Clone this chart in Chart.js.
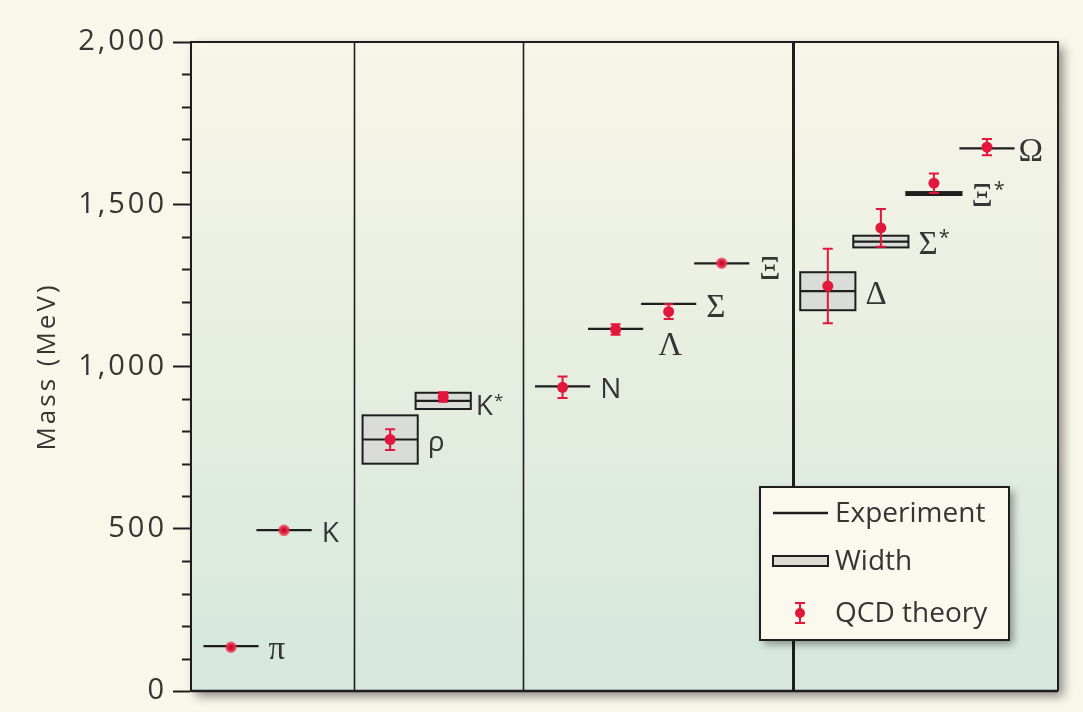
<!DOCTYPE html>
<html>
<head>
<meta charset="utf-8">
<script src="https://cdn.jsdelivr.net/npm/chart.js@4.4.1/dist/chart.umd.min.js"></script>
<style>
  html, body { margin: 0; padding: 0; background: #f9f6ea; }
  #wrap { width: 1083px; height: 712px; }
</style>
</head>
<body>
<div id="wrap"><canvas id="chart" width="1083" height="712"></canvas></div>
<script>
// Hadron masses (MeV): experiment, resonance width, lattice QCD result
const particles  = ['π', 'K', 'ρ', 'K*', 'N', 'Λ', 'Σ', 'Ξ', 'Δ', 'Σ*', 'Ξ*', 'Ω'];
const slots      = [1, 2, 4, 5, 7.25, 8.25, 9.25, 10.25, 12.25, 13.25, 14.25, 15.25];
const experiment = [138, 496, 775, 894, 939, 1116, 1193, 1318, 1232, 1385, 1533, 1672];
const widths     = [0, 0, 149, 50, 0, 0, 0, 0, 117, 36, 9, 0];
const theory     = [135, 495, 775, 906, 936, 1114, 1169, 1318, 1248, 1427, 1565, 1676];
const theoryErr  = [0, 0, 32, 15, 33, 16, 23, 0, 115, 58, 30, 25];
const isInput    = [true, true, false, false, false, false, false, true, false, false, false, false];
const groupEdges = [3.32, 6.5, 11.59];
const yTicks     = [0, 500, 1000, 1500, 2000];
const yMinorStep = 100;
const legendItems = ['Experiment', 'Width', 'QCD theory'];

const RED = '#e3173b';
const INK = '#1e1e1e';
const TEXT = '#353535';
const HALF = 0.52; // half length of each mass segment, in slot units

const theoryPts = [], inputPts = [];
particles.forEach((p, i) => {
  const pt = { x: slots[i], y: theory[i] };
  (isInput[i] ? inputPts : theoryPts).push(pt);
});

const serifNames = ['π', 'Λ', 'Σ', 'Ξ', 'Δ', 'Ω', 'Σ*', 'Ξ*'];
const labelNudge = { 'Λ': [5, 13], 'Ξ': [0, 3], 'K*': [-5, 2], 'Ω': [-6, 0] };

const plotBackdrop = {
  id: 'plotBackdrop',
  beforeDraw(chart) {
    const { ctx, chartArea: a } = chart;
    ctx.save();
    const g = ctx.createLinearGradient(0, a.top, 0, a.bottom);
    g.addColorStop(0, '#f8f6e9');
    g.addColorStop(0.5, '#e6eee0');
    g.addColorStop(1, '#d5e7de');
    ctx.shadowColor = 'rgba(0,0,0,0.45)';
    ctx.shadowBlur = 10;
    ctx.shadowOffsetX = 5;
    ctx.shadowOffsetY = 5;
    ctx.fillStyle = g;
    ctx.fillRect(a.left, a.top, a.right - a.left, a.bottom - a.top);
    ctx.restore();
    // the axis lettering is set a little wide
    ctx.letterSpacing = '3px';
  },
  beforeDatasetsDraw(chart) {
    chart.ctx.letterSpacing = '0px';
  }
};

function drawLabel(ctx, name, x, y) {
  const serif = serifNames.includes(name);
  const base = name.replace('*', '');
  const size = serif ? 33 : 28;
  ctx.font = size + 'px ' + (serif ? '"Liberation Serif"' : '"Open Sans"');
  ctx.fillStyle = TEXT;
  ctx.textBaseline = 'middle';
  ctx.textAlign = 'left';
  ctx.fillText(base, x, y);
  if (name.endsWith('*')) {
    const w = ctx.measureText(base).width;
    ctx.font = Math.round(size * 0.6) + 'px "Open Sans"';
    ctx.fillText('*', x + w + 1, y - size * 0.22);
  }
}

const massMarks = {
  id: 'massMarks',
  beforeDatasetsDraw(chart) {
    const { ctx, chartArea: a, scales: { x, y } } = chart;
    ctx.save();
    ctx.letterSpacing = '0px';
    // group separators
    groupEdges.forEach((e, k) => {
      const px = Math.round(x.getPixelForValue(e)) + 0.5;
      ctx.strokeStyle = INK;
      ctx.lineWidth = k === 2 ? 3 : 1.6;
      ctx.beginPath(); ctx.moveTo(px, a.top); ctx.lineTo(px, a.bottom); ctx.stroke();
    });
    // frame: top, right, bottom
    ctx.strokeStyle = INK;
    ctx.lineWidth = 2;
    ctx.beginPath();
    ctx.moveTo(a.left, a.top); ctx.lineTo(a.right, a.top);
    ctx.lineTo(a.right, a.bottom);
    ctx.stroke();
    ctx.lineWidth = 2.6;
    ctx.beginPath(); ctx.moveTo(a.right, a.bottom); ctx.lineTo(a.left, a.bottom); ctx.stroke();
    // minor ticks on the mass axis
    ctx.lineWidth = 2;
    for (let v = 0; v <= y.max; v += yMinorStep) {
      if (yTicks.includes(v)) continue;
      const py = Math.round(y.getPixelForValue(v)) + 0.5;
      ctx.beginPath(); ctx.moveTo(a.left - 9, py); ctx.lineTo(a.left, py); ctx.stroke();
    }
    particles.forEach((name, i) => {
      const x0 = x.getPixelForValue(slots[i] - HALF);
      const x1 = x.getPixelForValue(slots[i] + HALF);
      const ym = y.getPixelForValue(experiment[i]);
      if (widths[i] > 0) {
        const yt = y.getPixelForValue(experiment[i] + widths[i] / 2);
        const yb = y.getPixelForValue(experiment[i] - widths[i] / 2);
        ctx.fillStyle = '#d9dcd7';
        ctx.fillRect(x0, yt, x1 - x0, yb - yt);
        ctx.strokeStyle = INK;
        ctx.lineWidth = 2;
        ctx.strokeRect(x0, yt, x1 - x0, yb - yt);
      }
      ctx.strokeStyle = INK;
      ctx.lineWidth = 2.2;
      ctx.beginPath(); ctx.moveTo(x0, ym); ctx.lineTo(x1, ym); ctx.stroke();
      // lattice uncertainty
      if (theoryErr[i] > 0) {
        const xc = x.getPixelForValue(slots[i]);
        const t = y.getPixelForValue(theory[i] + theoryErr[i]);
        const b = y.getPixelForValue(theory[i] - theoryErr[i]);
        ctx.strokeStyle = RED;
        ctx.lineWidth = 2;
        ctx.beginPath();
        ctx.moveTo(xc, t); ctx.lineTo(xc, b);
        ctx.moveTo(xc - 5, t); ctx.lineTo(xc + 5, t);
        ctx.moveTo(xc - 5, b); ctx.lineTo(xc + 5, b);
        ctx.stroke();
      }
      const nudge = labelNudge[name] || [0, 0];
      drawLabel(ctx, name, x1 + 10 + nudge[0], ym + 4 + nudge[1]);
    });
    ctx.restore();
  }
};

const keyBox = {
  id: 'keyBox',
  afterDraw(chart) {
    const { ctx, chartArea: a } = chart;
    const R = a.right - 49, B = a.bottom - 51, L = R - 249, T = B - 153;
    ctx.save();
    ctx.letterSpacing = '0px';
    ctx.shadowColor = 'rgba(0,0,0,0.4)';
    ctx.shadowBlur = 8; ctx.shadowOffsetX = 4; ctx.shadowOffsetY = 4;
    ctx.fillStyle = '#fbf8ee';
    ctx.fillRect(L, T, R - L, B - T);
    ctx.restore();
    ctx.save();
    ctx.letterSpacing = '0px';
    ctx.strokeStyle = INK; ctx.lineWidth = 2;
    ctx.strokeRect(L, T, R - L, B - T);
    const sx0 = L + 13, sx1 = L + 68, tx = L + 75;
    const rows = [T + 26, T + 74, T + 126];
    // Experiment
    ctx.lineWidth = 2.4;
    ctx.beginPath(); ctx.moveTo(sx0, rows[0]); ctx.lineTo(sx1, rows[0]); ctx.stroke();
    // Width
    ctx.lineWidth = 2;
    ctx.fillStyle = '#dcdcd4';
    ctx.fillRect(sx0, rows[1] - 5, sx1 - sx0, 10);
    ctx.strokeRect(sx0, rows[1] - 5, sx1 - sx0, 10);
    // QCD theory
    const cx = L + 40;
    ctx.strokeStyle = RED; ctx.lineWidth = 2;
    ctx.beginPath();
    ctx.moveTo(cx, rows[2] - 10); ctx.lineTo(cx, rows[2] + 10);
    ctx.moveTo(cx - 5, rows[2] - 10); ctx.lineTo(cx + 5, rows[2] - 10);
    ctx.moveTo(cx - 5, rows[2] + 10); ctx.lineTo(cx + 5, rows[2] + 10);
    ctx.stroke();
    ctx.fillStyle = RED;
    ctx.beginPath(); ctx.arc(cx, rows[2], 5, 0, Math.PI * 2); ctx.fill();
    ctx.fillStyle = TEXT;
    ctx.font = '28px "Open Sans"';
    ctx.textBaseline = 'middle';
    legendItems.forEach((t, k) => ctx.fillText(t, tx, rows[k] + 1));
    ctx.restore();
  }
};

new Chart(document.getElementById('chart').getContext('2d'), {
  type: 'scatter',
  data: {
    datasets: [
      { label: 'QCD theory', data: theoryPts, pointRadius: 5.5, backgroundColor: RED, borderColor: RED, borderWidth: 0 },
      { label: 'QCD input', data: inputPts, pointRadius: 4, backgroundColor: '#c3122e', borderColor: 'rgba(238,48,80,0.75)', borderWidth: 3.5 }
    ]
  },
  options: {
    responsive: false,
    animation: false,
    events: [],
    layout: { padding: { left: 0, top: 42, right: 25, bottom: 21 } },
    plugins: { legend: { display: false }, tooltip: { enabled: false } },
    scales: {
      x: { type: 'linear', min: 0.246, max: 16.589, display: false },
      y: {
        type: 'linear', min: 0, max: 2000,
        afterBuildTicks: s => { s.ticks = yTicks.map(v => ({ value: v })); },
        afterFit: s => { s.width = 191; },
        ticks: {
          callback: v => v.toLocaleString('en-US'),
          font: { family: 'Open Sans', size: 29, lineHeight: 1 },
          color: TEXT,
          padding: 6
        },
        grid: { drawOnChartArea: false, tickLength: 18, tickWidth: 2, tickColor: INK },
        border: { display: true, width: 2, color: INK },
        title: {
          display: true, text: 'Mass (MeV)',
          font: { family: 'Open Sans', size: 26 }, color: TEXT,
          padding: { top: 32, bottom: 0 }
        }
      }
    }
  },
  plugins: [plotBackdrop, massMarks, keyBox]
});
</script>
</body>
</html>
